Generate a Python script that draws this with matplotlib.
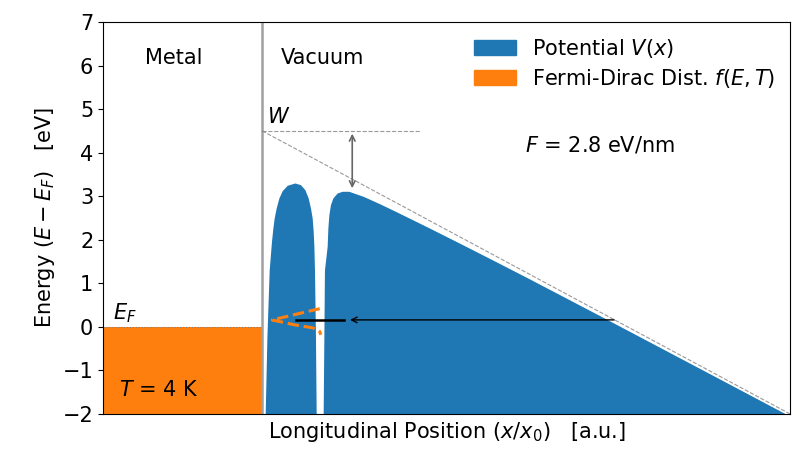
import numpy as np
import matplotlib.pyplot as plt
from matplotlib.patches import Patch

# values (x in nm-like units, energy in eV)
W = 4.5          # work function
F = 2.8          # field, eV/nm
x_min, x_max = -0.7, 2.321
E_min, E_max = -2, 7

# potential V(x): two barriers separated by a narrow well (gap) at x ~ 0.24-0.27
pot_x = [0.0132, 0.0207, 0.0308, 0.0409, 0.0470, 0.0527, 0.0615, 0.0734,
         0.0879, 0.1099, 0.1437, 0.1684, 0.1877, 0.2022, 0.2123, 0.2198,
         0.2242, 0.2273, 0.2299, 0.2343, 0.2374,
         0.2681, 0.2712, 0.2738, 0.2857, 0.2888, 0.2932, 0.3002, 0.3108,
         0.3297, 0.3516, 0.3811, 0.4453, 0.5187, 0.5921, 0.7385, 0.8848,
         1.0316, 1.1780, 1.4857, 1.9253, 2.3209]
pot_E = [-2.0, -0.231, 1.307, 1.966, 2.271, 2.500, 2.730, 2.960,
         3.127, 3.251, 3.304, 3.265, 3.150, 2.960, 2.730, 2.500,
         2.195, 1.851, 1.307, -0.231, -2.0,
         -2.0, -0.231, 1.307, 1.851, 2.271, 2.576, 2.806, 2.960,
         3.074, 3.113, 3.113, 2.995, 2.822, 2.638, 2.262, 1.878,
         1.488, 1.095, 0.255, -0.957, -2.05]

# energy distribution of tunnelling electrons (drawn sideways)
fd_x = [0.253, 0.149, 0.080, 0.050, 0.044, 0.052, 0.080, 0.145, 0.220, 0.242, 0.252, 0.258]
fd_E = [0.418, 0.290, 0.204, 0.170, 0.159, 0.148, 0.118, 0.044, -0.020, -0.060, -0.100, -0.180]

E_tunnel = 0.16
x_tunnel_in, x_tunnel_out = 0.149, 0.360
x_arrow_start, x_arrow_end = 1.56, 0.374
x_lowering = 0.396
V_peak = 3.12

fig = plt.figure(figsize=(8.08, 4.49), dpi=100)
ax = fig.add_axes([0.1275, 0.078, 0.8502, 0.873])

# metal, filled up to E_F
ax.fill_between([x_min, 0], E_min, 0, color='tab:orange', lw=0)
# potential
ax.fill_between(pot_x, E_min, pot_E, color='tab:blue', lw=0)

ax.axvline(0, color='#a0a0a0', lw=1.8)
ax.plot([x_min, 0], [0, 0], ls=':', color='gray', lw=0.8)
ax.plot([0, 0.695], [W, W], ls='--', color='gray', lw=0.8, alpha=0.8)
ax.plot([0, x_max], [W, W - F * x_max], ls='--', color='gray', lw=0.8, alpha=0.8)

ax.annotate('', xy=(x_lowering, V_peak), xytext=(x_lowering, W),
            arrowprops=dict(arrowstyle='<->', color='#666666', lw=1.2))

ax.plot(fd_x, fd_E, ls='--', color='tab:orange', lw=2.2)
ax.plot([x_tunnel_in, x_tunnel_out], [E_tunnel, E_tunnel], color='black', lw=1.8)
ax.annotate('', xy=(x_arrow_end, E_tunnel), xytext=(x_arrow_start, E_tunnel),
            arrowprops=dict(arrowstyle='->', color='black', lw=1.0))

fs = 15
ax.text(-0.391, 6.17, 'Metal', ha='center', va='center', fontsize=fs)
ax.text(0.264, 6.17, 'Vacuum', ha='center', va='center', fontsize=fs)
ax.text(0.02, 4.6, '$W$', ha='left', va='bottom', fontsize=fs)
ax.text(-0.655, 0.04, '$E_F$', ha='left', va='bottom', fontsize=fs)
ax.text(-0.63, -1.45, '$T$ = 4 K', ha='left', va='center', fontsize=fs)
ax.text(1.156, 4.18, '$F$ = 2.8 eV/nm', ha='left', va='center', fontsize=fs)

handles = [Patch(color='tab:blue', label='Potential $V(x)$'),
           Patch(color='tab:orange', label='Fermi-Dirac Dist. $f(E,T)$')]
ax.legend(handles=handles, loc='upper right', frameon=False, fontsize=fs,
          handlelength=2.0, borderaxespad=0.3, labelspacing=0.35)

ax.set_xlim(x_min, x_max)
ax.set_ylim(E_min, E_max)
ax.set_xticks([])
ax.set_yticks(range(-2, 8))
ax.tick_params(axis='y', labelsize=fs)
ax.set_xlabel('Longitudinal Position $(x/x_0)$   [a.u.]', fontsize=fs)
ax.set_ylabel('Energy $(E - E_F)$   [eV]', fontsize=fs)

fig.savefig('out.png', dpi=100)
